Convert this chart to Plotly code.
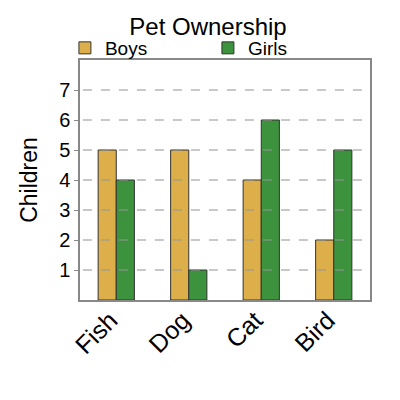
import plotly.graph_objects as go

categories = ["Fish", "Dog", "Cat", "Bird"]
boys = [5, 5, 4, 2]
girls = [4, 1, 6, 5]
y_ticks = [1, 2, 3, 4, 5, 6, 7]

fig = go.Figure()
fig.add_trace(go.Bar(name="Boys", x=categories, y=boys,
                     marker=dict(color="#dcaf4a", line=dict(color="#333333", width=1))))
fig.add_trace(go.Bar(name="Girls", x=categories, y=girls,
                     marker=dict(color="#3d923d", line=dict(color="#333333", width=1))))

shapes = [dict(type="line", xref="paper", yref="y", x0=0.01, x1=0.99, y0=t, y1=t,
               line=dict(color="rgba(150,150,150,0.7)", width=1.5, dash="dash"), layer="above")
          for t in y_ticks]

fig.update_layout(
    width=400, height=400,
    margin=dict(l=72, r=38, t=52, b=108, autoexpand=False),
    paper_bgcolor="white", plot_bgcolor="white",
    font=dict(family="Liberation Sans, Arial, sans-serif", color="black"),
    title=dict(text="Pet Ownership", x=0.5, xanchor="center", y=0.953, yanchor="middle",
               font=dict(size=24)),
    barmode="group", bargap=0.5, bargroupgap=0,
    showlegend=True,
    legend=dict(orientation="h", x=-0.052, y=1.05, xanchor="left", yanchor="middle",
                font=dict(size=19), itemwidth=30, entrywidth=98, entrywidthmode="pixels",
                tracegroupgap=0, bgcolor="rgba(0,0,0,0)"),
    shapes=shapes,
    xaxis=dict(showline=True, linecolor="#888888", linewidth=1.5, mirror=True,
               tickangle=-45, tickfont=dict(size=25), ticks="",
               ticklabelshift=-6, ticklabelstandoff=-6),
    yaxis=dict(range=[0, 8], tickvals=y_ticks, showgrid=False, showline=True,
               linecolor="#888888", linewidth=1.5, mirror=True, ticks="outside",
               ticklen=4, tickcolor="#888888", tickfont=dict(size=20),
               title=dict(text="Children", font=dict(size=23), standoff=15),
               zeroline=False),
)

fig.write_html("out.html")
